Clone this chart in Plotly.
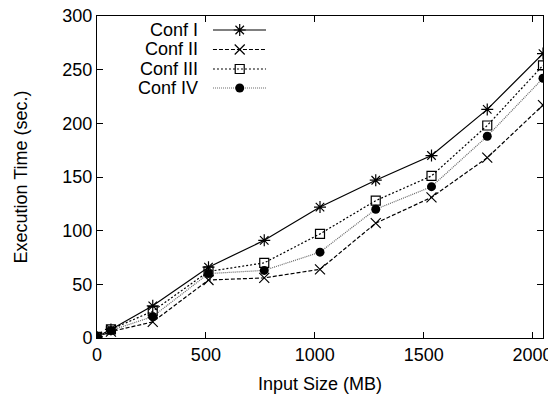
import plotly.graph_objects as go

input_size = [0, 64, 256, 512, 768, 1024, 1280, 1536, 1792, 2048]
conf_names = ["Conf I", "Conf II", "Conf III", "Conf IV"]
conf1 = [1, 8, 30, 66, 91, 122, 147, 170, 213, 265]
conf2 = [1, 6, 15, 54, 56, 64, 107, 131, 168, 217]
conf3 = [1, 8, 25, 62, 70, 97, 128, 151, 198, 254]
conf4 = [1, 7, 20, 60, 63, 80, 120, 141, 188, 242]
x_ticks = [0, 500, 1000, 1500, 2000]
y_ticks = [0, 50, 100, 150, 200, 250, 300]

series = [conf1, conf2, conf3, conf4]
styles = [
    dict(line=dict(color="black", width=1.2, dash="solid"),
         marker=dict(symbol="asterisk-open", size=10, color="black", line=dict(width=1.2, color="black"))),
    dict(line=dict(color="black", width=1.2, dash="4px,2px"),
         marker=dict(symbol="x-thin-open", size=10, color="black", line=dict(width=1.2, color="black"))),
    dict(line=dict(color="black", width=1.2, dash="2px,2px"),
         marker=dict(symbol="square-open", size=9, color="black", line=dict(width=1.2, color="black"))),
    dict(line=dict(color="#666666", width=1.2, dash="1px,1px"),
         marker=dict(symbol="circle", size=9, color="black", line=dict(width=0, color="black"))),
]

fig = go.Figure()
for name, ys, st in zip(conf_names, series, styles):
    fig.add_trace(go.Scatter(x=input_size, y=ys, name=name, mode="lines+markers",
                             line=st["line"], marker=st["marker"], showlegend=False))

# gnuplot-style key (text right-aligned, sample to the right), drawn on an overlay axis
key_text_x = 0.232
key_line_x = [0.26, 0.379]
key_mark_x = 0.32
key_rows = [0.9565, 0.896, 0.8354, 0.7764]
for name, st, ky in zip(conf_names, styles, key_rows):
    fig.add_trace(go.Scatter(x=key_line_x, y=[ky, ky], mode="lines", line=st["line"],
                             xaxis="x2", yaxis="y2", showlegend=False, hoverinfo="skip"))
    fig.add_trace(go.Scatter(x=[key_mark_x], y=[ky], mode="markers", marker=st["marker"],
                             xaxis="x2", yaxis="y2", showlegend=False, hoverinfo="skip"))
    fig.add_annotation(x=key_text_x, y=ky, xref="x2", yref="y2", text=name, showarrow=False,
                       xanchor="right", yanchor="middle", font=dict(size=18, color="black"))

font_family = "Liberation Sans, Arial, sans-serif"
axis_common = dict(showgrid=False, zeroline=False, showline=True, linecolor="black", linewidth=1,
                   mirror="allticks", ticks="inside", ticklen=6, tickwidth=1, tickcolor="black",
                   tickfont=dict(size=18, color="black"), automargin=False,
                   ticklabeloverflow="allow")

# page body has an 8px margin; the figure is offset accordingly
fig.update_layout(
    width=548, height=387,
    margin=dict(l=89, r=13, t=8, b=57),
    paper_bgcolor="white", plot_bgcolor="white",
    font=dict(family=font_family, color="black"),
    xaxis=dict(range=[0, 2048], tickvals=x_ticks,
               title=dict(text="Input Size (MB)", font=dict(size=18), standoff=13), **axis_common),
    yaxis=dict(range=[0, 300], tickvals=y_ticks,
               title=dict(text="Execution Time (sec.)", font=dict(size=18), standoff=30), **axis_common),
    xaxis2=dict(range=[0, 1], overlaying="x", visible=False, domain=[0, 1]),
    yaxis2=dict(range=[0, 1], overlaying="y", visible=False),
)

fig.write_html("out.html")
